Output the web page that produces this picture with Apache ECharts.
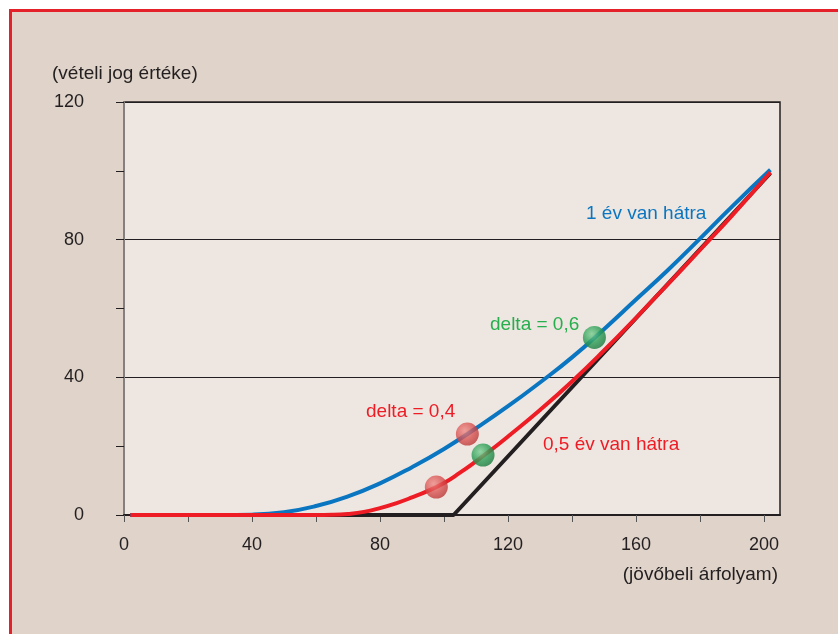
<!DOCTYPE html>
<html>
<head>
<meta charset="utf-8">
<script src="https://cdn.jsdelivr.net/npm/echarts@6/dist/echarts.min.js"></script>
<style>
  html, body { margin: 0; padding: 0; background: #fff; }
  #frame { position: absolute; left: 9px; top: 9px; width: 840px; height: 640px;
           background: #dfd3ca; border-left: 3px solid #e4202a; border-top: 3px solid #e4202a; box-sizing: border-box; }
  #chart { position: absolute; left: 0; top: 0; width: 838px; height: 634px; }
</style>
</head>
<body>
<div id="frame"></div>
<div id="chart"></div>
<script>
// payoff at expiry (intrinsic value)
const intrinsicX = [2, 103, 202];
const intrinsicY = [0, 0, 99.3];
// 1 year to expiry
const oneYearX = [2, 30, 40, 50, 60, 70, 80, 90, 100, 110, 120, 130, 140, 150, 160, 170, 180, 190, 202];
const oneYearY = [0, 0, 0.1, 0.8, 2.6, 5.4, 9.2, 13.9, 19.2, 25.2, 31.6, 38.5, 45.8, 54, 62.6, 71.2, 80.3, 89.6, 100.3];
// 0.5 year to expiry
const halfYearX = [2, 60, 65, 70, 75, 80, 85, 90, 95, 100, 105, 110, 115, 120, 130, 140, 150, 160, 170, 180, 190, 202];
const halfYearY = [0, 0, 0.05, 0.3, 0.9, 2.0, 3.4, 5.1, 7.0, 9.3, 12.3, 15.6, 19.1, 22.8, 30.5, 38.8, 47.8, 57.3, 67.1, 77.0, 87.0, 99.6];
// delta markers
const delta04 = [[97.6, 8.1], [107.3, 23.5]];
const delta06 = [[112.2, 17.4], [147, 51.6]];
const xTicks = [0, 20, 40, 60, 80, 100, 120, 140, 160, 180, 200];
const xLabels = [0, 40, 80, 120, 160, 200];

const zip = (xs, ys) => xs.map((x, i) => [x, ys[i]]);
const FONT = '"Liberation Sans", Arial, sans-serif';
const INK = '#231f20';
const sphere = (light, mid, dark) => ({
  type: 'radial', x: 0.38, y: 0.35, r: 0.7,
  colorStops: [{ offset: 0, color: light }, { offset: 0.55, color: mid }, { offset: 1, color: dark }]
});

const chart = echarts.init(document.getElementById('chart'), null, { renderer: 'canvas' });
chart.setOption({
  backgroundColor: 'transparent',
  animation: false,
  grid: { left: 124, right: 58, top: 102, bottom: 119, show: true,
          backgroundColor: '#eee7e1', borderColor: INK, borderWidth: 1.5 },
  xAxis: {
    type: 'value', min: 0, max: 205,
    axisLine: { show: true, onZero: false, lineStyle: { color: INK, width: 2 } },
    axisTick: { show: true, customValues: xTicks, length: 7, lineStyle: { color: '#555', width: 1 } },
    axisLabel: { customValues: xLabels, margin: 21, color: INK, fontSize: 18, fontFamily: FONT },
    splitLine: { show: false }
  },
  yAxis: {
    type: 'value', min: 0, max: 120, interval: 40,
    axisLine: { show: true, lineStyle: { color: '#858080', width: 2 } },
    axisTick: { show: true, length: 8, lineStyle: { color: INK, width: 1 } },
    minorTick: { show: true, splitNumber: 2, length: 8, lineStyle: { color: INK, width: 1 } },
    axisLabel: { margin: 40, color: INK, fontSize: 18, fontFamily: FONT },
    splitLine: { show: true, lineStyle: { color: INK, width: 1 } }
  },
  series: [
    { type: 'line', data: zip(intrinsicX, intrinsicY), showSymbol: false,
      lineStyle: { color: INK, width: 4 }, z: 2 },
    { type: 'line', data: zip(oneYearX, oneYearY), showSymbol: false, smooth: 0.5,
      lineStyle: { color: '#0a76c1', width: 4 }, z: 3 },
    { type: 'line', data: zip(halfYearX, halfYearY), showSymbol: false, smooth: 0.5,
      lineStyle: { color: '#ee1c25', width: 4 }, z: 4 },
    { type: 'scatter', data: delta04, symbolSize: 23, z: 5,
      itemStyle: { color: sphere('#ee8a86', '#d9504f', '#b8302f'), opacity: 0.78 } },
    { type: 'scatter', data: delta06, symbolSize: 23, z: 5,
      itemStyle: { color: sphere('#7fcf95', '#2f9f58', '#1d7a40'), opacity: 0.82 } }
  ],
  graphic: [
    { type: 'text', left: 52, top: 64, style: { text: '(vételi jog értéke)', fill: INK, font: '19px ' + FONT } },
    { type: 'text', right: 60, top: 565, style: { text: '(jövőbeli árfolyam)', fill: INK, font: '19px ' + FONT } },
    { type: 'text', left: 586, top: 204, style: { text: '1 év van hátra', fill: '#0a76c1', font: '19px ' + FONT } },
    { type: 'text', left: 490, top: 315, style: { text: 'delta = 0,6', fill: '#27ae4d', font: '19px ' + FONT } },
    { type: 'text', left: 366, top: 402, style: { text: 'delta = 0,4', fill: '#ee1c25', font: '19px ' + FONT } },
    { type: 'text', left: 543, top: 435, style: { text: '0,5 év van hátra', fill: '#ee1c25', font: '19px ' + FONT } }
  ]
});
window.addEventListener('resize', () => chart.resize());
</script>
</body>
</html>
